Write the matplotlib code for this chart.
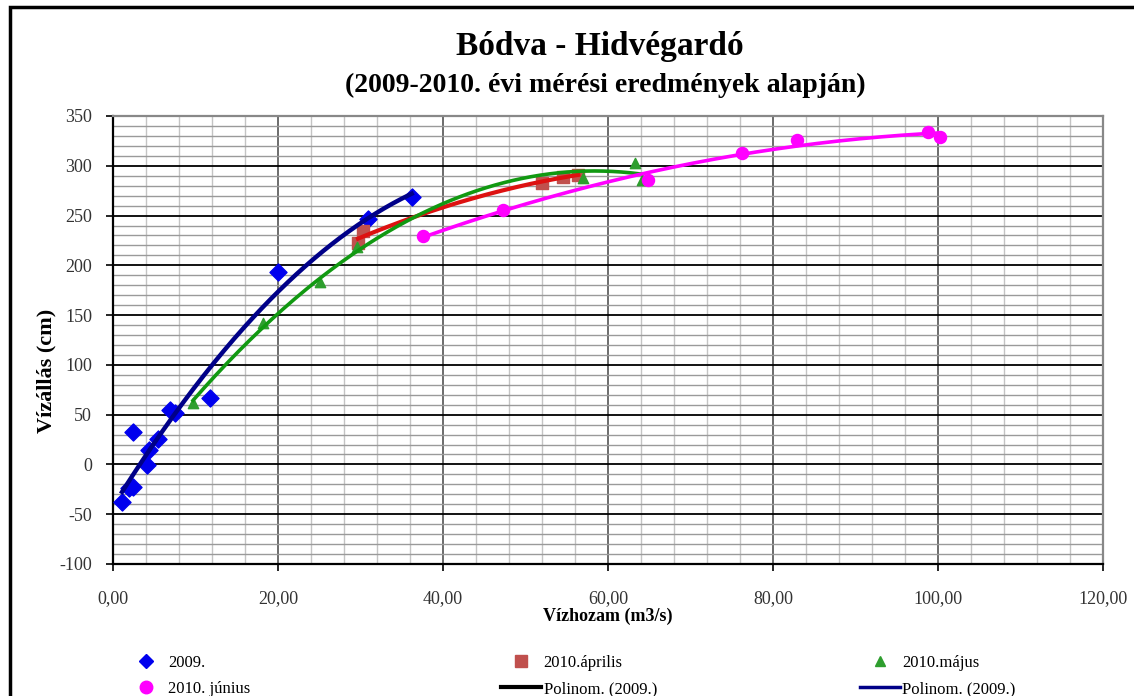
import numpy as np
import matplotlib
matplotlib.use('Agg')
import matplotlib.pyplot as plt
from matplotlib.lines import Line2D
from matplotlib.patches import Rectangle
from matplotlib.ticker import MultipleLocator, FuncFormatter

plt.rcParams['font.family'] = ['Liberation Serif', 'DejaVu Serif']
plt.rcParams['axes.unicode_minus'] = False

# mérési pontok (vízhozam m3/s, vízállás cm)
q_2009 = [1.1, 1.9, 2.4, 4.1, 4.4, 5.5, 2.4, 6.9, 7.5, 11.8, 20.0, 30.9, 36.2]
h_2009 = [-38, -24, -23, -1, 15, 26, 33, 55, 52, 67, 193, 247, 269]

q_apr = [29.7, 30.3, 52.0, 54.5, 56.4]
h_apr = [222, 234, 283, 289, 291]

q_maj = [9.7, 18.2, 25.1, 29.6, 57.0, 63.3, 64.1]
h_maj = [62, 142, 183, 218, 288, 303, 286]

q_jun = [37.6, 47.3, 64.9, 76.2, 82.9, 98.8, 100.2]
h_jun = [229, 256, 286, 313, 326, 334, 329]

W, H = 1134, 696
fig = plt.figure(figsize=(W / 100, H / 100), dpi=100)
ax = fig.add_axes([113 / W, 1 - 564 / H, 990 / W, 448 / H])

# rács
ax.set_xlim(0, 120)
ax.set_ylim(-100, 350)
ax.xaxis.set_major_locator(MultipleLocator(20))
ax.xaxis.set_minor_locator(MultipleLocator(4))
ax.yaxis.set_major_locator(MultipleLocator(50))
ax.yaxis.set_minor_locator(MultipleLocator(10))
ax.grid(which='minor', axis='x', color='#c4c4c4', lw=1.0)
ax.grid(which='minor', axis='y', color='#9a9a9a', lw=1.0)
ax.grid(which='major', axis='x', color='#444444', lw=1.1)
ax.grid(which='major', axis='y', color='black', lw=1.3)
ax.set_axisbelow(True)
ax.tick_params(which='minor', length=0)
ax.tick_params(which='major', length=5, width=1.2, direction='out', labelsize=13,
               labelcolor='#333333')
ax.tick_params(axis='x', pad=14)
ax.tick_params(axis='y', pad=10)
ax.xaxis.set_major_formatter(FuncFormatter(lambda v, p: f'{v:.2f}'.replace('.', ',')))
for s in ['left', 'bottom']:
    ax.spines[s].set_linewidth(1.6)
    ax.spines[s].set_color('black')
for s in ['top', 'right']:
    ax.spines[s].set_linewidth(1.6)
    ax.spines[s].set_color('#888888')


def trend(q, h, deg=2):
    c = np.polyfit(q, h, deg)
    xs = np.linspace(min(q), max(q), 200)
    return xs, np.polyval(c, xs)


ax.scatter(q_2009, h_2009, marker='D', s=75, color='#0000ee', zorder=3)
ax.scatter(q_apr, h_apr, marker='s', s=70, color='#c0504d', zorder=3)
ax.scatter(q_maj, h_maj, marker='^', s=55, color='#2e9e2e', zorder=3)
ax.scatter(q_jun, h_jun, marker='o', s=75, color='#ff00ff', zorder=3)

x, y = trend(q_apr, h_apr)
ax.plot(x, y, color='#dd1111', lw=3, zorder=4)
x, y = trend(q_maj, h_maj)
ax.plot(x, y, color='#119911', lw=2.6, zorder=4)
x, y = trend(q_jun, h_jun)
ax.plot(x, y, color='#ff00ff', lw=2.6, zorder=4)
x, y = trend(q_2009, h_2009)
ax.plot(x, y, color='#000088', lw=3.2, zorder=5)

ax.set_xlabel('Vízhozam (m3/s)', fontsize=13, fontweight='bold', labelpad=0)
ax.set_ylabel('Vízállás (cm)', fontsize=16, fontweight='bold')
ax.yaxis.set_label_coords(-0.0566, 0.43)

fig.text(600 / W, 1 - 47 / H, 'Bódva - Hidvégardó', ha='center', va='center',
         fontsize=24, fontweight='bold')
fig.text(605 / W, 1 - 85 / H, '(2009-2010. évi mérési eredmények alapján)',
         ha='center', va='center', fontsize=20, fontweight='bold')

# jelmagyarázat: három oszlop
columns = [
    (126, [Line2D([], [], ls='none', marker='D', ms=7, color='#0000ee'),
           Line2D([], [], ls='none', marker='o', ms=9, color='#ff00ff')],
     ['2009.', '2010. június']),
    (501, [Line2D([], [], ls='none', marker='s', ms=8, color='#c0504d'),
           Line2D([], [], color='black', lw=3)],
     ['2010.április', 'Polinom. (2009.)']),
    (860, [Line2D([], [], ls='none', marker='^', ms=7, color='#2e9e2e'),
           Line2D([], [], color='#000088', lw=2.5)],
     ['2010.május', 'Polinom. (2009.)']),
]
for x0, hs, ls in columns:
    fig.legend(hs, ls, loc='upper left', bbox_to_anchor=(x0 / W, 1 - 655 / H),
               frameon=False, fontsize=12, handlelength=2.4, handletextpad=0.15,
               labelspacing=0.6, borderpad=0, borderaxespad=0)

fig.add_artist(Rectangle((10 / W, -0.1), 1.2, 1.1 - 7 / H, transform=fig.transFigure,
                         fill=False, lw=2.5, edgecolor='black'))

fig.savefig('out.png', dpi=100)
